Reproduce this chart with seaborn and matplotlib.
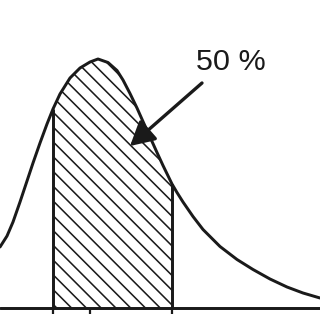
import matplotlib
matplotlib.use("Agg")
import matplotlib.pyplot as plt
import seaborn as sns
import pandas as pd
import numpy as np

# curve (x in value units, density in value units)
x_vals = [0.0, 0.175, 0.325, 0.5, 0.675, 0.825, 1.0, 1.175, 1.325, 1.5,
          1.75, 2.0, 2.25, 2.45, 2.7, 2.925, 3.075, 3.25, 3.425, 3.575,
          3.75, 3.925, 4.075, 4.3, 4.425, 4.575, 4.825, 5.075, 5.5, 5.925,
          6.325, 6.75, 7.175, 7.575, 8.0]
dens_vals = [0.244, 0.288, 0.344, 0.424, 0.508, 0.58, 0.66, 0.736, 0.796,
             0.856, 0.92, 0.96, 0.984, 0.996, 0.982, 0.95, 0.912, 0.858, 0.8,
             0.746, 0.684, 0.622, 0.57, 0.496, 0.462, 0.424, 0.366, 0.314,
             0.246, 0.194, 0.154, 0.116, 0.084, 0.06, 0.04]
lower_bound = 1.325
upper_bound = 4.3
tick_vals = [1.325, 2.25, 4.3]
label_text = "50 %"

df = pd.DataFrame({"x": x_vals, "density": dens_vals})

sns.set_style("white")
plt.rcParams["font.family"] = ["Liberation Sans", "DejaVu Sans"]
plt.rcParams["hatch.linewidth"] = 0.85

dpi = 400 / 3
fig = plt.figure(figsize=(320 / dpi, 320 / dpi), dpi=dpi)
ax = fig.add_axes([0, 0, 1, 1])

ink = "#1a1a1a"
lw = 1.6
sns.lineplot(data=df, x="x", y="density", ax=ax, color=ink, lw=lw,
             solid_joinstyle="round", solid_capstyle="round")

sel = df[(df.x >= lower_bound) & (df.x <= upper_bound)]
ax.fill_between(sel.x, 0, sel.density, facecolor="white", edgecolor=ink,
                hatch="\\\\\\", linewidth=0)
y_lo = np.interp(lower_bound, df.x, df.density)
y_hi = np.interp(upper_bound, df.x, df.density)
ax.vlines([lower_bound, upper_bound], 0, [y_lo, y_hi], color=ink, lw=lw)
ax.axhline(0, color=ink, lw=lw)
ax.vlines(tick_vals, -0.024, 0, color=ink, lw=1.2)

ax.annotate("", xy=(3.25, 0.648), xytext=(5.05, 0.9),
            arrowprops=dict(arrowstyle="-|>,head_length=0.55,head_width=0.3",
                            color=ink, lw=1.8, mutation_scale=20,
                            shrinkA=0, shrinkB=0))
ax.text(5.775, 0.984, label_text, ha="center", va="center", fontsize=16.5,
        color=ink)

ax.set_xlim(0, 8)
ax.set_ylim(-0.048, 1.232)
ax.axis("off")
fig.savefig("out.png", dpi=dpi)
